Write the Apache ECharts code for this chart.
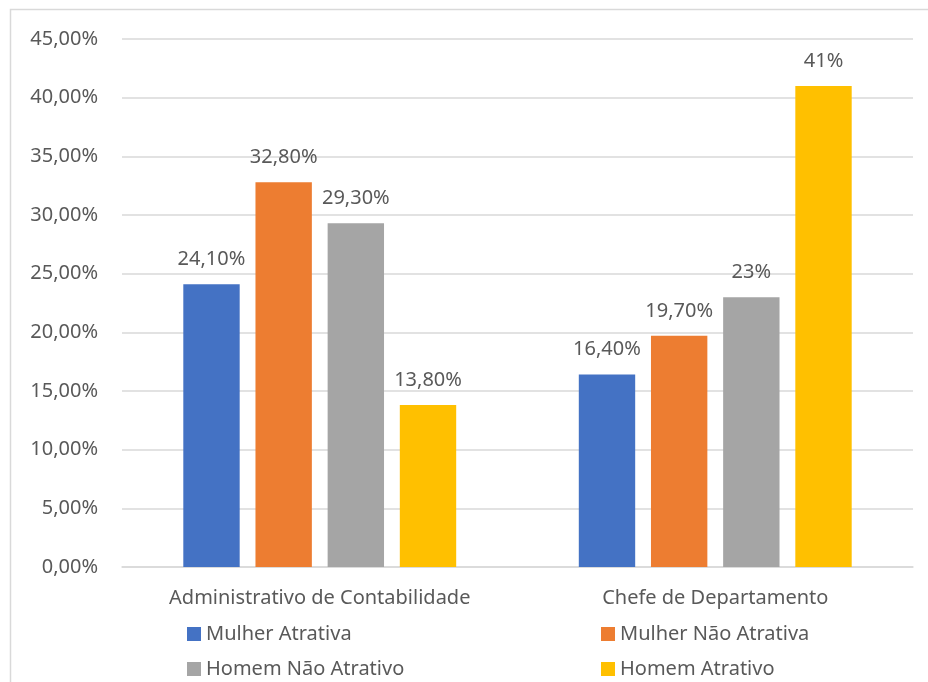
<!DOCTYPE html>
<html>
<head>
<meta charset="utf-8">
<script src="https://cdn.jsdelivr.net/npm/echarts@6/dist/echarts.min.js"></script>
<style>
  html, body { margin: 0; padding: 0; background: #fff; }
  #chart { width: 928px; height: 682px; }
</style>
</head>
<body>
<div id="chart"></div>
<script>
const categories = ["Administrativo de Contabilidade", "Chefe de Departamento"];
const seriesNames = ["Mulher Atrativa", "Mulher Não Atrativa", "Homem Não Atrativo", "Homem Atrativo"];
const seriesColors = ["#4472c4", "#ed7d31", "#a5a5a5", "#ffc000"];
const mulherAtrativa = [24.1, 16.4];
const mulherNaoAtrativa = [32.8, 19.7];
const homemNaoAtrativo = [29.3, 23];
const homemAtrativo = [13.8, 41];
const valueLabels = [
  ["24,10%", "16,40%"],
  ["32,80%", "19,70%"],
  ["29,30%", "23%"],
  ["13,80%", "41%"],
];
const seriesValues = [mulherAtrativa, mulherNaoAtrativa, homemNaoAtrativo, homemAtrativo];

const textColor = "#595959";
const fontFamily = "'Noto Sans', 'Open Sans', sans-serif";
const fontSize = 20;

function legendColumn(left, names) {
  return {
    orient: "vertical",
    left: left,
    top: 619,
    height: 120,
    itemWidth: 14,
    itemHeight: 14,
    itemGap: 15,
    icon: "rect",
    textStyle: { color: textColor, fontSize: fontSize, fontFamily: fontFamily },
    data: names,
  };
}

const chart = echarts.init(document.getElementById("chart"));
chart.setOption({
  animation: false,
  textStyle: { fontFamily: fontFamily },
  graphic: [
    {
      type: "rect",
      shape: { x: 10.5, y: 9.5, width: 940, height: 700 },
      style: { fill: "none", stroke: "#d9d9d9", lineWidth: 1.5 },
      silent: true,
    },
  ],
  grid: { left: 122, right: 15, top: 39, bottom: 115 },
  legend: [
    legendColumn(182, [seriesNames[0], seriesNames[2]]),
    legendColumn(596, [seriesNames[1], seriesNames[3]]),
  ],
  xAxis: {
    type: "category",
    data: categories,
    axisLine: { lineStyle: { color: "#d9d9d9", width: 1.5 } },
    axisTick: { show: false },
    axisLabel: { color: textColor, fontSize: fontSize, margin: 21 },
  },
  yAxis: {
    type: "value",
    min: 0,
    max: 45,
    interval: 5,
    axisLine: { show: false },
    axisTick: { show: false },
    axisLabel: {
      color: textColor,
      fontSize: fontSize,
      margin: 24,
      formatter: (v) => v.toFixed(2).replace(".", ",") + "%",
    },
    splitLine: { lineStyle: { color: "#d9d9d9", width: 1.5 } },
  },
  series: seriesNames.map((name, i) => ({
    name: name,
    type: "bar",
    data: seriesValues[i],
    barGap: "28%",
    barCategoryGap: "31%",
    itemStyle: { color: seriesColors[i] },
    label: {
      show: true,
      position: "top",
      distance: 15,
      color: textColor,
      fontSize: fontSize,
      formatter: (p) => valueLabels[i][p.dataIndex],
    },
  })),
});
</script>
</body>
</html>
